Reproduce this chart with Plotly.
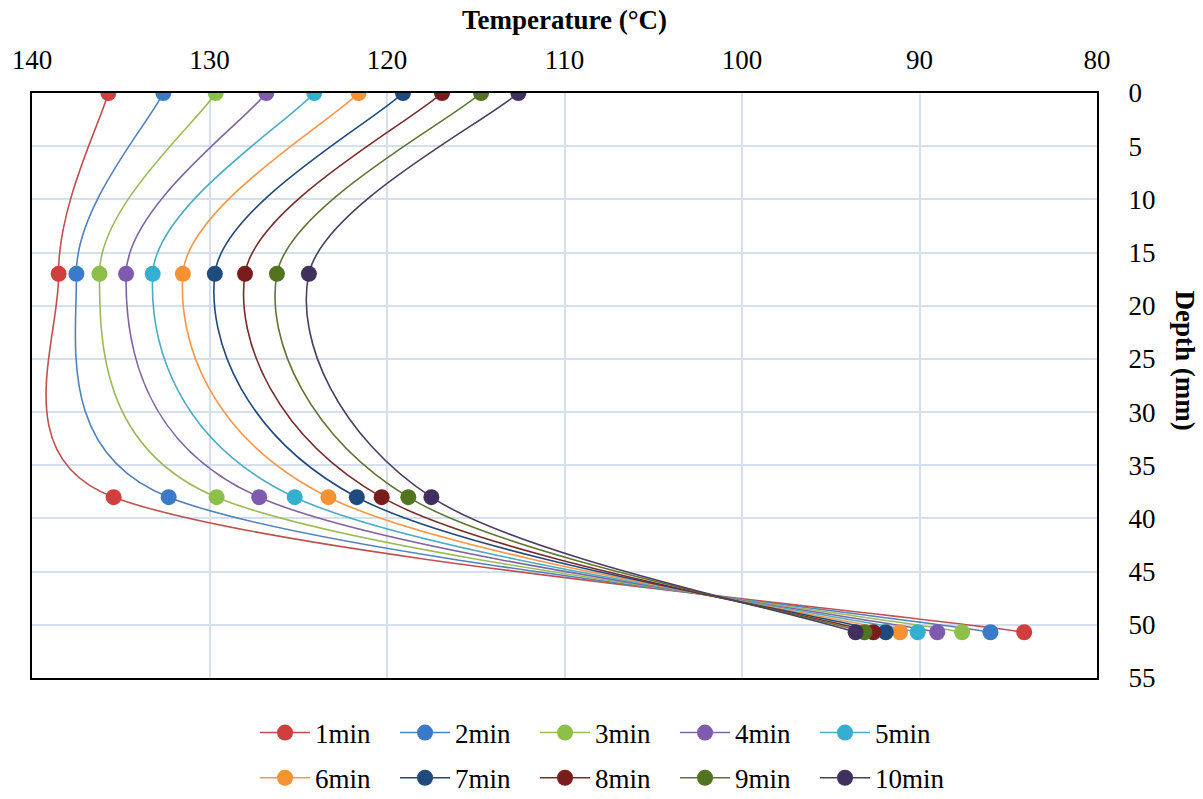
import math
import plotly.graph_objects as go

depth = [0, 17, 38, 50.7]
series_names = ["1min", "2min", "3min", "4min", "5min", "6min", "7min", "8min", "9min", "10min"]
temp_d0 = [135.7, 132.6, 129.65, 126.8, 124.1, 121.6, 119.1, 116.9, 114.7, 112.6]
temp_d17 = [138.5, 137.5, 136.2, 134.7, 133.2, 131.5, 129.7, 128.0, 126.2, 124.4]
temp_d38 = [135.4, 132.3, 129.6, 127.2, 125.2, 123.3, 121.7, 120.3, 118.8, 117.5]
temp_d50 = [84.1, 86.0, 87.6, 89.0, 90.1, 91.1, 91.9, 92.6, 93.1, 93.6]

line_colors = ["#C0504D", "#4F81BD", "#9BBB59", "#8064A2", "#4BACC6",
               "#F79646", "#1F497D", "#772C2A", "#5F7530", "#4D3B62"]
marker_colors = ["#D03F3D", "#3A7AC8", "#8DC04A", "#7E5BAE", "#35AFCF",
                 "#F79234", "#1F4A7E", "#7A1C1C", "#52731F", "#40305E"]

FONT = "Liberation Serif, Times New Roman, Times, serif"
X_RANGE = [140, 80]
Y_RANGE = [55, 0]
W, H = 1203, 799
M = dict(l=32, r=106, t=93, b=121)
# pixel-per-unit factors, used only to measure distances for the smoothing
SX = (W - M["l"] - M["r"]) / abs(X_RANGE[1] - X_RANGE[0])
SY = (H - M["t"] - M["b"]) / abs(Y_RANGE[1] - Y_RANGE[0])


def dist(a, b):
    return math.hypot((a[0] - b[0]) * SX, (a[1] - b[1]) * SY)


def arm(vec_from, vec_to, seg_len):
    """Tangent arm (1/6 of neighbour chord), capped at half the segment length."""
    vx, vy = (vec_to[0] - vec_from[0]) / 6, (vec_to[1] - vec_from[1]) / 6
    L = math.hypot(vx * SX, vy * SY)
    cap = seg_len / 2
    if L > cap and L > 0:
        vx, vy = vx * cap / L, vy * cap / L
    return vx, vy


def smooth_path(xs, ys):
    """Excel-style smoothed line as cubic Bezier segments in data coordinates."""
    n = len(xs)
    pts = list(zip(xs, ys))
    d = f"M {pts[0][0]},{pts[0][1]}"
    for i in range(n - 1):
        p0 = pts[max(i - 1, 0)]
        p1 = pts[i]
        p2 = pts[i + 1]
        p3 = pts[min(i + 2, n - 1)]
        seg = dist(p1, p2)
        a1 = arm(p0, p2, seg)
        a2 = arm(p1, p3, seg)
        c1 = (p1[0] + a1[0], p1[1] + a1[1])
        c2 = (p2[0] - a2[0], p2[1] - a2[1])
        d += f" C {c1[0]},{c1[1]} {c2[0]},{c2[1]} {p2[0]},{p2[1]}"
    return d


fig = go.Figure()
for i, name in enumerate(series_names):
    temps = [temp_d0[i], temp_d17[i], temp_d38[i], temp_d50[i]]
    fig.add_shape(type="path", xref="x", yref="y", path=smooth_path(temps, depth),
                  line=dict(color=line_colors[i], width=1.6), layer="between")
    fig.add_trace(go.Scatter(
        x=temps, y=depth, name=name, mode="markers", showlegend=False,
        marker=dict(color=marker_colors[i], size=16, line=dict(width=0)),
    ))
for i, name in enumerate(series_names):
    fig.add_trace(go.Scatter(
        x=[None], y=[None], name=name, mode="lines+markers",
        line=dict(color=line_colors[i], width=1.6),
        marker=dict(color=marker_colors[i], size=16, line=dict(width=0)),
        legend="legend" if i < 5 else "legend2",
    ))

fig.update_layout(
    width=W, height=H,
    margin=M,
    paper_bgcolor="white", plot_bgcolor="white",
    font=dict(family=FONT, size=27, color="black"),
    xaxis=dict(range=X_RANGE, side="top", dtick=10, showgrid=True,
               gridcolor="#D5E0EE", gridwidth=1.5, zeroline=False,
               showline=True, mirror=True, linecolor="black", linewidth=2,
               ticks="", ticklabelstandoff=11, automargin=False,
               tickfont=dict(family=FONT, size=27)),
    yaxis=dict(range=Y_RANGE, side="right", dtick=5, showgrid=True,
               gridcolor="#D5E0EE", gridwidth=1.5, zeroline=False,
               showline=True, mirror=True, linecolor="black", linewidth=2,
               ticks="outside", ticklen=24, tickcolor="rgba(0,0,0,0)",
               automargin=False,
               tickfont=dict(family=FONT, size=27)),
    legend=dict(orientation="h", xref="container", yref="container",
                x=0.212, y=0.0826, xanchor="left", yanchor="middle",
                entrywidth=75, itemwidth=50,
                font=dict(family=FONT, size=27), bgcolor="rgba(0,0,0,0)"),
    legend2=dict(orientation="h", xref="container", yref="container",
                 x=0.212, y=0.026, xanchor="left", yanchor="middle",
                 entrywidth=75, itemwidth=50,
                 font=dict(family=FONT, size=27), bgcolor="rgba(0,0,0,0)"),
    showlegend=True,
)
fig.add_annotation(text="<b>Temperature (°C)</b>", xref="paper", yref="paper",
                   x=0.5, y=1.0, yshift=73, yanchor="middle", showarrow=False,
                   font=dict(family=FONT, size=27))
fig.add_annotation(text="<b>Depth (mm)</b>", xref="paper", yref="paper",
                   x=1.0, xshift=88, xanchor="center", y=0.5, yshift=25, textangle=90,
                   showarrow=False, font=dict(family=FONT, size=27))
fig.write_html("out.html")
